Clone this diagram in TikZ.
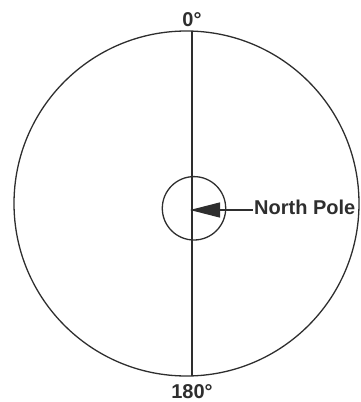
\documentclass[tikz,border=0pt]{standalone}
\usepackage{fontspec}
\setmainfont{Liberation Sans}
\usetikzlibrary{arrows.meta}
\definecolor{ink}{HTML}{2E2E2E}
\begin{document}
\begin{tikzpicture}[x=1pt,y=-1pt,
  ring/.style={draw=ink,line width=1.3pt,circle,inner sep=0pt},
  lbl/.style={text=ink,font=\bfseries\fontsize{20}{20}\selectfont,inner sep=0pt},
  meridian/.style={draw=ink,line width=1.2pt}]
\useasboundingbox (0,0) rectangle (360,402);
\node[ring,minimum size=345pt] (globe) at (186.5,203.5) {};
\node[ring,minimum size=63.4pt] (pole circle) at (194,208.3) {};
\coordinate (top) at (192,31.1);
\coordinate (bottom) at (192,375.9);
\draw[meridian] (top) -- (bottom);
\node[lbl,anchor=base] (zero) at (192,26) {0°};
\node[lbl,anchor=base] (oneeighty) at (192,398.5) {180°};
\coordinate (pole) at (190,210);
\node[lbl,anchor=base west] (np) at (254,214) {North Pole};
\draw[meridian,-{Triangle[length=30pt,width=15pt]}] (np.west |- pole) ++(-1,0) -- (pole);
\end{tikzpicture}
\end{document}
